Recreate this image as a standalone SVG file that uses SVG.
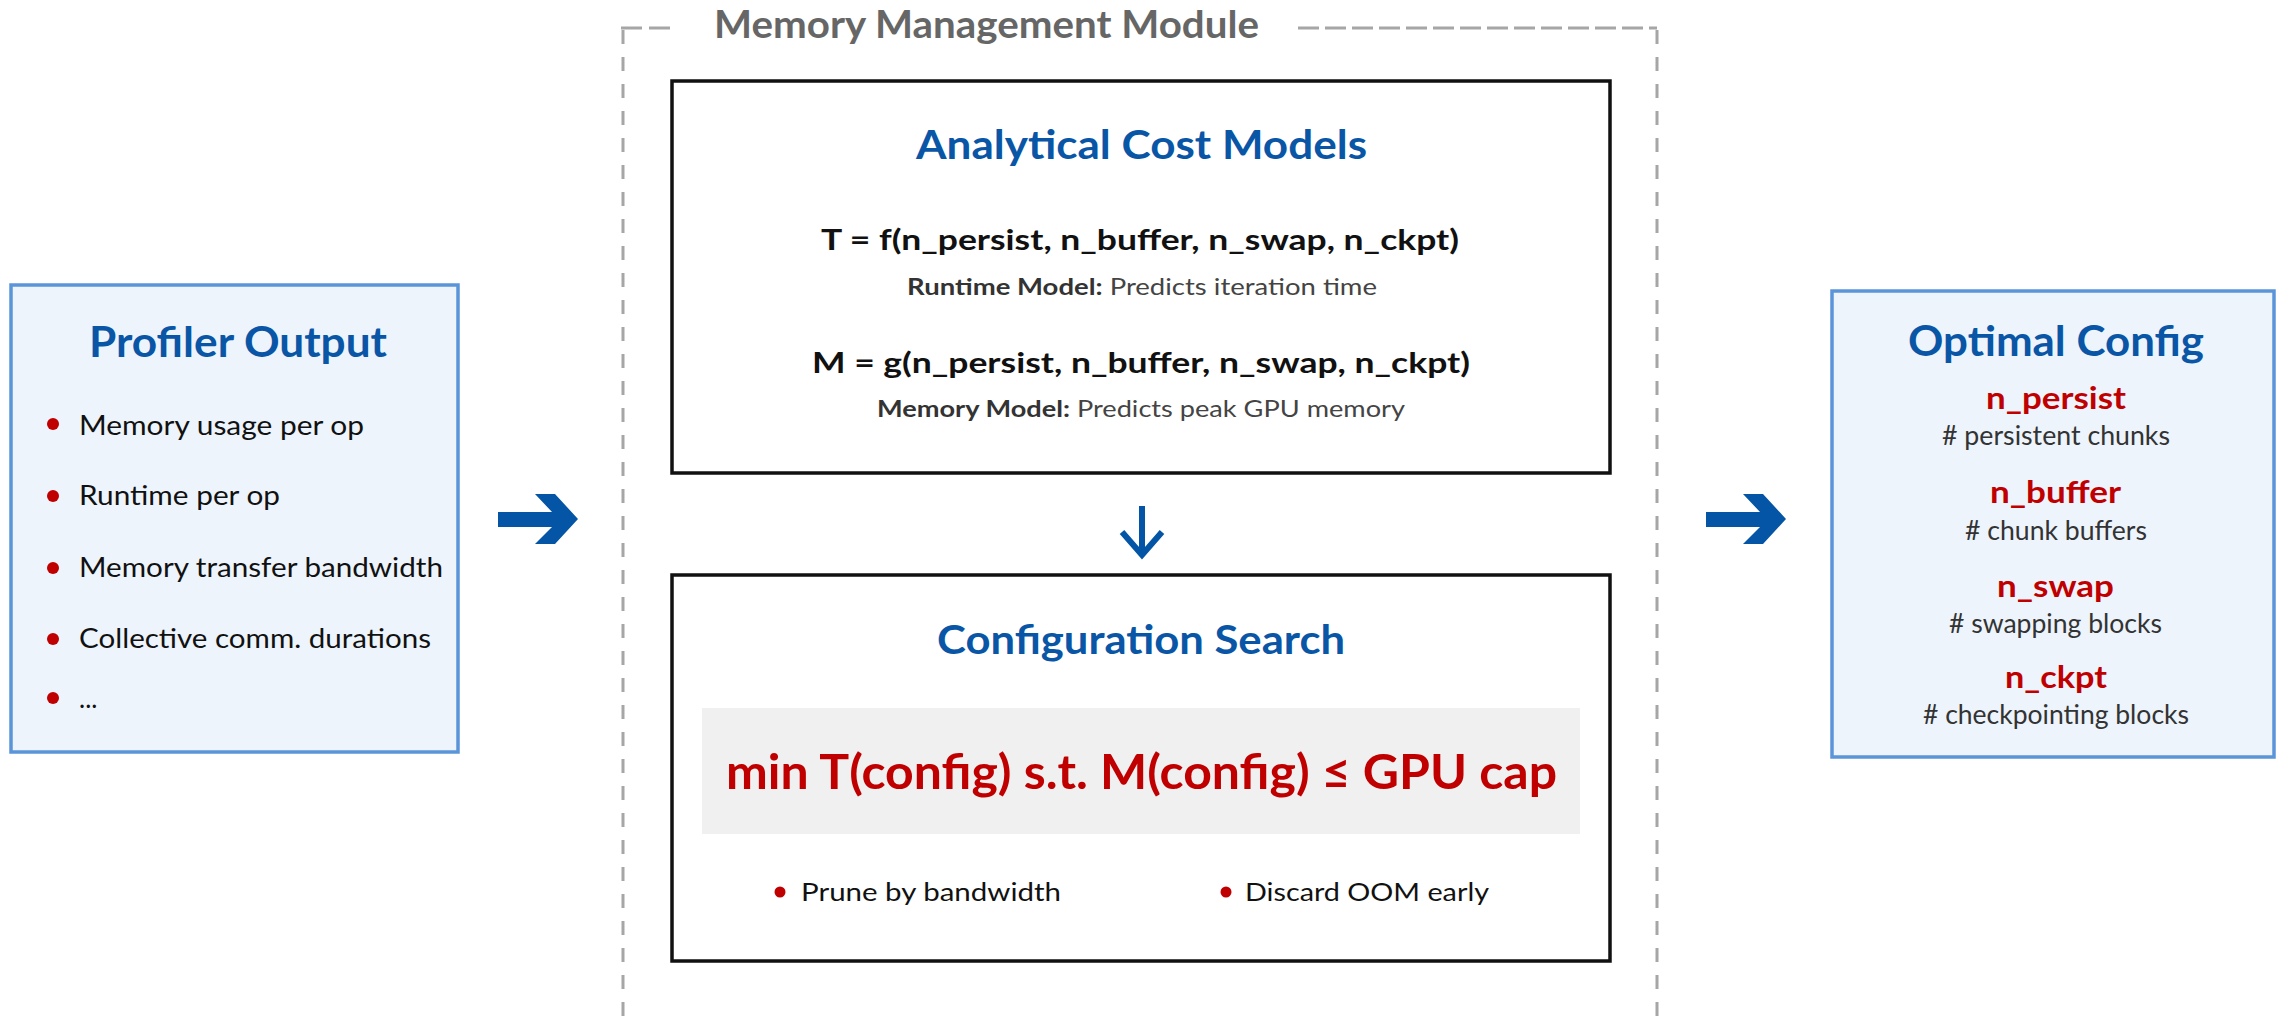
<svg xmlns="http://www.w3.org/2000/svg" width="2277" height="1017" viewBox="0 0 2277 1017">
  <style>
    text { font-family: Lato, "Open Sans", "Liberation Sans", sans-serif; }
    .panel { fill: #edf4fc; stroke: #5b95d9; stroke-width: 3.5; }
    .box { fill: #ffffff; stroke: #111111; stroke-width: 3.5; }
    .title { font-weight: 700; fill: #0a56a6; }
    .item { font-size: 26px; fill: #111111; }
    .dot { fill: #c00000; }
    .formula { font-size: 28.5px; font-weight: 700; fill: #111111; }
    .note { font-size: 23px; fill: #444444; }
    .note-b { font-weight: 700; fill: #333333; }
    .param { font-size: 30.5px; font-weight: 700; fill: #c00000; }
    .desc { font-size: 26px; fill: #333333; }
    .flow { fill: #0455a5; }
    .dash { fill: none; stroke: #a6a6a6; stroke-width: 3; }
  </style>

  <!-- Memory management module frame (open at the bottom edge) -->
  <g id="module-frame">
    <path class="dash" d="M621,28 H672" stroke-dasharray="21 7"/>
    <path class="dash" d="M1298,28 H1657" stroke-dasharray="21 6"/>
    <path class="dash" d="M623,30 V1017" stroke-dasharray="14 13"/>
    <path class="dash" d="M1657,30 V1017" stroke-dasharray="14 13"/>
    <text x="714" y="38" font-size="38" font-weight="700" fill="#666666" textLength="545" lengthAdjust="spacingAndGlyphs">Memory Management Module</text>
  </g>

  <!-- Profiler output -->
  <g id="profiler-output">
    <rect class="panel" x="11" y="285" width="447" height="467"/>
    <text class="title" x="89" y="357" font-size="42.5" textLength="298" lengthAdjust="spacingAndGlyphs">Profiler Output</text>
    <circle class="dot" cx="53" cy="424" r="6"/>
    <text class="item" x="79" y="435" textLength="285" lengthAdjust="spacingAndGlyphs">Memory usage per op</text>
    <circle class="dot" cx="53" cy="496" r="6"/>
    <text class="item" x="79" y="505" textLength="201" lengthAdjust="spacingAndGlyphs">Runtime per op</text>
    <circle class="dot" cx="53" cy="568" r="6"/>
    <text class="item" x="79" y="577" textLength="364" lengthAdjust="spacingAndGlyphs">Memory transfer bandwidth</text>
    <circle class="dot" cx="53" cy="639" r="6"/>
    <text class="item" x="79" y="648" textLength="352" lengthAdjust="spacingAndGlyphs">Collective comm. durations</text>
    <circle class="dot" cx="53" cy="698" r="6"/>
    <text class="item" x="79" y="708">...</text>
  </g>

  <!-- Analytical cost models -->
  <g id="cost-models">
    <rect class="box" x="672" y="81" width="938" height="392"/>
    <text class="title" x="916" y="159" font-size="41" textLength="451" lengthAdjust="spacingAndGlyphs">Analytical Cost Models</text>
    <text class="formula" x="821" y="250" textLength="638" lengthAdjust="spacingAndGlyphs">T = f(n_persist, n_buffer, n_swap, n_ckpt)</text>
    <text class="note" x="907" y="295" textLength="470" lengthAdjust="spacingAndGlyphs"><tspan class="note-b">Runtime Model:</tspan> Predicts iteration time</text>
    <text class="formula" x="812" y="373" textLength="658" lengthAdjust="spacingAndGlyphs">M = g(n_persist, n_buffer, n_swap, n_ckpt)</text>
    <text class="note" x="877" y="417" textLength="528" lengthAdjust="spacingAndGlyphs"><tspan class="note-b">Memory Model:</tspan> Predicts peak GPU memory</text>
  </g>

  <!-- Configuration search -->
  <g id="config-search">
    <rect class="box" x="672" y="575" width="938" height="386"/>
    <text class="title" x="937" y="654" font-size="41" textLength="408" lengthAdjust="spacingAndGlyphs">Configuration Search</text>
    <rect x="702" y="708" width="878" height="126" fill="#f0f0f0"/>
    <text x="726" y="789" font-size="47" font-weight="700" fill="#c00000" textLength="831" lengthAdjust="spacingAndGlyphs">min T(config) s.t. M(config) ≤ GPU cap</text>
    <circle class="dot" cx="780" cy="892" r="5.5"/>
    <text x="801" y="901" font-size="25" fill="#111111" textLength="260" lengthAdjust="spacingAndGlyphs">Prune by bandwidth</text>
    <circle class="dot" cx="1226" cy="892" r="5.5"/>
    <text x="1245" y="901" font-size="25" fill="#111111" textLength="244" lengthAdjust="spacingAndGlyphs">Discard OOM early</text>
  </g>

  <!-- Optimal config -->
  <g id="optimal-config">
    <rect class="panel" x="1832" y="291" width="442" height="466"/>
    <text class="title" x="1908" y="356" font-size="41.5" textLength="296" lengthAdjust="spacingAndGlyphs">Optimal Config</text>
    <text class="param" x="1986" y="409" textLength="140" lengthAdjust="spacingAndGlyphs">n_persist</text>
    <text class="desc" x="1942" y="445" textLength="228" lengthAdjust="spacingAndGlyphs"># persistent chunks</text>
    <text class="param" x="1990" y="503" textLength="131" lengthAdjust="spacingAndGlyphs">n_buffer</text>
    <text class="desc" x="1965" y="540" textLength="182" lengthAdjust="spacingAndGlyphs"># chunk buffers</text>
    <text class="param" x="1997" y="597" textLength="117" lengthAdjust="spacingAndGlyphs">n_swap</text>
    <text class="desc" x="1949" y="633" textLength="213" lengthAdjust="spacingAndGlyphs"># swapping blocks</text>
    <text class="param" x="2005" y="688" textLength="102" lengthAdjust="spacingAndGlyphs">n_ckpt</text>
    <text class="desc" x="1923" y="724" textLength="266" lengthAdjust="spacingAndGlyphs"># checkpointing blocks</text>
  </g>

  <!-- Connectors -->
  <g id="connectors">
    <polygon class="flow" points="498,512 552,512 535,494 555,494 578,519 555,544 535,544 552,527 498,527"/>
    <polygon class="flow" points="1706,512 1760,512 1743,494 1763,494 1786,519 1763,544 1743,544 1760,527 1706,527"/>
    <g fill="none" stroke="#0455a5" stroke-width="6">
      <path d="M1142,506 V552"/>
      <path d="M1122,532 L1142,555 L1162,532" stroke-linejoin="miter"/>
    </g>
  </g>
</svg>
